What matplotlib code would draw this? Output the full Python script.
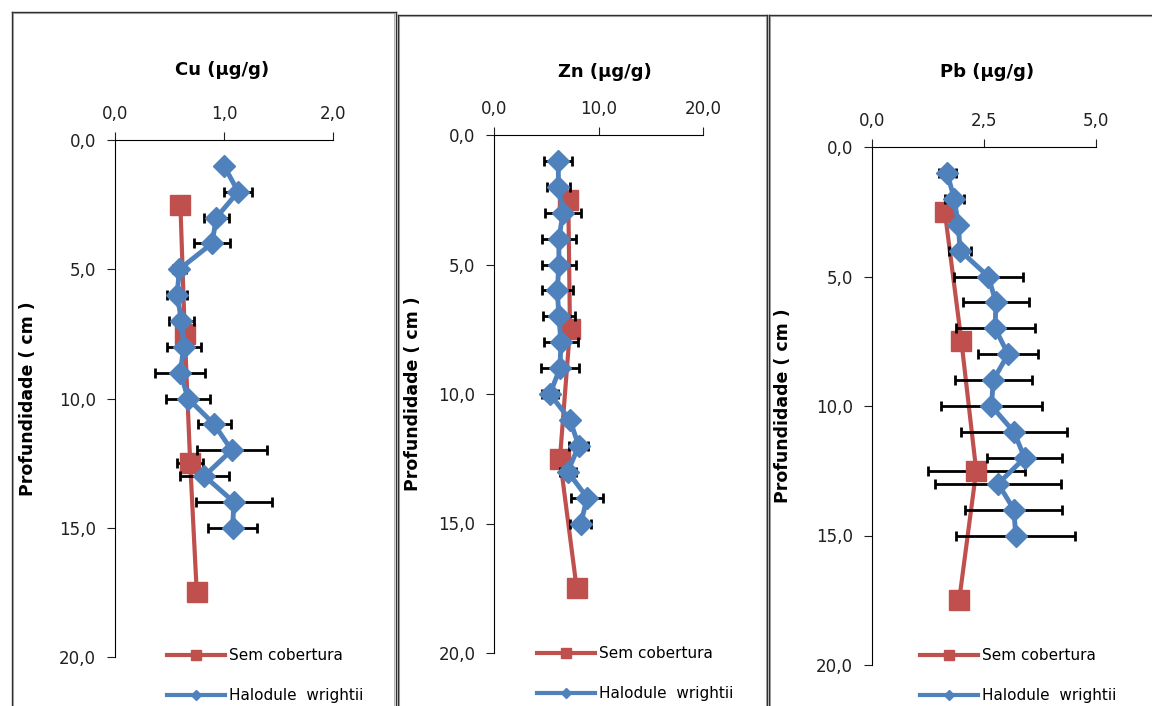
import matplotlib
matplotlib.use('Agg')
import matplotlib.pyplot as plt
from matplotlib.lines import Line2D
from matplotlib.ticker import FuncFormatter

plt.rcParams['font.family'] = ['DejaVu Sans']

# Depths (cm) for both series.
depth_hw = [1, 2, 3, 4, 5, 6, 7, 8, 9, 10, 11, 12, 13, 14, 15]
depth_sc = [2.5, 7.5, 12.5, 17.5]

# Cu (ug/g)
cu_hw = [1.00, 1.13, 0.93, 0.89, 0.59, 0.57, 0.61, 0.63, 0.60, 0.67, 0.91, 1.07, 0.82, 1.09, 1.08]
cu_hw_err = [0.03, 0.13, 0.115, 0.165, 0.06, 0.09, 0.115, 0.155, 0.23, 0.20, 0.15, 0.32, 0.225, 0.35, 0.225]
cu_sc = [0.60, 0.64, 0.69, 0.75]
cu_sc_err = [0.0, 0.0, 0.12, 0.0]

# Zn (ug/g)
zn_hw = [6.15, 6.15, 6.6, 6.2, 6.2, 6.05, 6.2, 6.4, 6.3, 5.35, 7.25, 8.1, 7.05, 8.9, 8.3]
zn_hw_err = [1.35, 1.1, 1.7, 1.6, 1.6, 1.5, 1.5, 1.6, 1.8, 0.8, 0.4, 0.9, 0.75, 1.5, 1.0]
zn_sc = [7.1, 7.26, 6.3, 7.9]
zn_sc_err = [0.0, 0.0, 0.0, 0.0]

# Pb (ug/g)
pb_hw = [1.68, 1.84, 1.93, 1.97, 2.60, 2.77, 2.75, 3.04, 2.71, 2.67, 3.17, 3.41, 2.82, 3.17, 3.21]
pb_hw_err = [0.19, 0.21, 0.10, 0.25, 0.77, 0.73, 0.88, 0.66, 0.86, 1.12, 1.19, 0.84, 1.40, 1.08, 1.33]
pb_sc = [1.63, 2.00, 2.33, 1.95]
pb_sc_err = [0.0, 0.0, 1.08, 0.0]

titles = ['Cu (\u00b5g/g)', 'Zn (\u00b5g/g)', 'Pb (\u00b5g/g)']
x_ticks = [[0, 1, 2], [0, 10, 20], [0, 2.5, 5]]
y_ticks = [0, 5, 10, 15, 20]

RED = '#C0504D'
BLUE = '#4F81BD'
W, H = 1152, 706

fig = plt.figure(figsize=(W / 100, H / 100), dpi=100)


def px(x, y):
    """ Pixel position (from top-left) to figure fraction. """
    return x / W, 1 - y / H


def comma(v, _):
    return ('%.1f' % v).replace('.', ',')


# Axis boxes in pixels: left, top, right, bottom.
boxes = [(115, 140, 333, 657), (494, 135, 703.3, 653), (871.7, 147, 1096, 665)]
frames = [(11.5, 12, 395.5), (398, 15, 767), (768.5, 15, 1160)]
title_pos = [(222, 70), (605, 72), (987, 72)]
legend_pos = [(167, 648), (537, 646), (920, 648)]
ylabel_x = [-0.36, -0.345, -0.355]

data = [(cu_hw, cu_hw_err, cu_sc, cu_sc_err),
        (zn_hw, zn_hw_err, zn_sc, zn_sc_err),
        (pb_hw, pb_hw_err, pb_sc, pb_sc_err)]

# Chart frames (one per panel, open at the bottom).
for (l, t, r) in frames:
    for dx, col, lw in [(1.2, '#b8b8b8', 0.8), (0, '#303030', 1.0)]:
        fig.add_artist(Line2D([(l + dx) / W, (l + dx) / W], [0, 1 - (t + dx) / H],
                              transform=fig.transFigure, color=col, lw=lw))
        fig.add_artist(Line2D([(l + dx) / W, (r - dx) / W], [1 - (t + dx) / H, 1 - (t + dx) / H],
                              transform=fig.transFigure, color=col, lw=lw))
        fig.add_artist(Line2D([(r - dx) / W, (r - dx) / W], [0, 1 - (t + dx) / H],
                              transform=fig.transFigure, color=col, lw=lw))

for k, ((l, t, r, b), (hw, hw_err, sc, sc_err)) in enumerate(zip(boxes, data)):
    ax = fig.add_axes([l / W, 1 - b / H, (r - l) / W, (b - t) / H])
    ax.set_facecolor('none')

    # Uncovered sediment first, then Halodule wrightii on top.
    ax.errorbar(sc, depth_sc, xerr=sc_err, fmt='none', ecolor='black', elinewidth=2,
                capsize=3.8, capthick=2, zorder=1.5)
    ax.plot(sc, depth_sc, color=RED, lw=3, marker='s', ms=15, mec=RED, zorder=2)
    ax.errorbar(hw, depth_hw, xerr=hw_err, fmt='none', ecolor='black', elinewidth=2,
                capsize=3.8, capthick=2, zorder=2.5)
    ax.plot(hw, depth_hw, color=BLUE, lw=3.5, marker='D', ms=11.5, mec=BLUE, zorder=3)

    ax.set_xlim(x_ticks[k][0], x_ticks[k][-1])
    ax.set_ylim(20, 0)
    ax.set_xticks(x_ticks[k])
    ax.set_yticks(y_ticks)
    ax.xaxis.set_major_formatter(FuncFormatter(comma))
    ax.yaxis.set_major_formatter(FuncFormatter(comma))
    ax.xaxis.tick_top()
    ax.tick_params(axis='both', direction='out', length=5.5, width=0.8, labelsize=12,
                   colors='#202020')
    ax.tick_params(axis='x', pad=7)
    ax.tick_params(axis='y', pad=8)
    for side in ['right', 'bottom']:
        ax.spines[side].set_visible(False)
    for side in ['left', 'top']:
        ax.spines[side].set_linewidth(0.8)
    ax.set_ylabel('Profundidade ( cm )', fontsize=12.5, fontweight='bold')
    ax.yaxis.set_label_coords(ylabel_x[k], 0.5)

    fig.text(*px(*title_pos[k]), titles[k], ha='center', va='center', fontsize=13,
             fontweight='bold')

    handles = [Line2D([], [], color=RED, lw=3, marker='s', ms=7, mec=RED),
               Line2D([], [], color=BLUE, lw=3, marker='D', ms=5, mec=BLUE)]
    fig.legend(handles, ['Sem cobertura', 'Halodule  wrightii'], loc='upper left',
               bbox_to_anchor=px(*legend_pos[k]), frameon=False, fontsize=11,
               handlelength=3.8, handletextpad=0.25, labelspacing=1.65, borderpad=0,
               borderaxespad=0)

fig.savefig('out.png', dpi=100)
